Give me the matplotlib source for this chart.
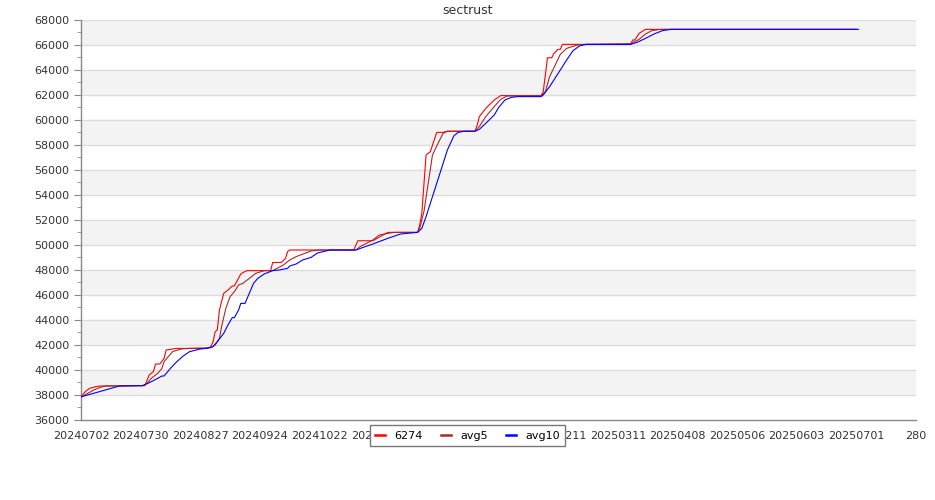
import matplotlib.pyplot as plt
import matplotlib.ticker as ticker
from matplotlib.lines import Line2D

# ---------------------------------------------------------------------------
# Data (x = days since 20240702)
# ---------------------------------------------------------------------------

TICK_LABELS = [
    "20240702", "20240730", "20240827", "20240924", "20241022", "20241119",
    "20241217", "20250114", "20250211", "20250311", "20250408", "20250506",
    "20250603", "20250701", "280",
]

days_6274 = [0, 2, 4, 7, 9, 30, 32, 34, 35, 37, 39, 40, 45, 59, 61, 62, 63, 64,
             65, 67, 69, 71, 72, 75, 76, 78, 89, 90, 94, 96, 97, 98, 128, 130,
             137, 144, 158, 159, 160, 162, 164, 167, 170, 172, 185, 186, 187,
             190, 194, 197, 216, 217, 219, 221, 222, 224, 225, 226, 258, 259,
             260, 262, 265, 364]
vals_6274 = [37850, 38270, 38530, 38670, 38720, 38750, 39600, 39870, 40480,
             40480, 40930, 41600, 41730, 41730, 41870, 42270, 43070, 43200,
             44800, 46130, 46400, 46720, 46720, 47680, 47790, 47950, 47950,
             48600, 48600, 48930, 49470, 49600, 49600, 50340, 50340, 51010,
             51010, 51600, 52530, 57200, 57470, 59010, 59010, 59100, 59100,
             59600, 60270, 60930, 61600, 61950, 61950, 62270, 64980, 64980,
             65330, 65650, 65650, 66050, 66050, 66400, 66400, 66930, 67250,
             67250]

days_avg5 = [0, 1, 6, 9, 12, 29, 31, 33, 36, 38, 39, 41, 43, 47, 51, 61, 63, 65,
             66, 68, 70, 72, 74, 76, 79, 82, 86, 90, 92, 95, 98, 101, 105, 108,
             112, 129, 131, 134, 137, 140, 144, 147, 158, 159, 161, 163, 165,
             168, 170, 172, 185, 187, 190, 194, 197, 200, 216, 218, 220, 223,
             225, 228, 233, 237, 258, 262, 265, 268, 272, 364]
vals_avg5 = [37850, 37920, 38400, 38610, 38720, 38750, 38930, 39330, 39730,
             40130, 40670, 41070, 41470, 41680, 41730, 41780, 42000, 42530,
             43470, 44930, 45870, 46270, 46800, 46930, 47330, 47730, 47950,
             47950, 48130, 48400, 48800, 49070, 49330, 49520, 49600, 49600,
             49870, 50130, 50400, 50800, 50930, 51010, 51010, 51330, 52670,
             54930, 57200, 58270, 58930, 59100, 59100, 59470, 60270, 61070,
             61650, 61920, 61920, 62270, 63470, 64530, 65250, 65730, 66000,
             66050, 66100, 66450, 66880, 67150, 67250, 67250]

days_avg10 = [0, 18, 29, 32, 36, 38, 39, 42, 45, 48, 51, 56, 59, 62, 64, 67, 69,
              71, 72, 74, 75, 77, 79, 81, 83, 86, 90, 93, 97, 98, 101, 104, 108,
              111, 117, 129, 137, 144, 150, 158, 160, 162, 167, 172, 175, 177,
              180, 185, 187, 190, 194, 196, 199, 202, 205, 216, 217, 220, 224,
              228, 231, 234, 237, 258, 261, 265, 269, 273, 277, 365]
vals_avg10 = [37850, 38720, 38750, 38980, 39330, 39520, 39520, 40130, 40670,
              41120, 41470, 41680, 41730, 41870, 42270, 42930, 43600, 44190,
              44190, 44800, 45330, 45330, 46130, 46930, 47330, 47680, 47950,
              48000, 48130, 48320, 48480, 48800, 49010, 49360, 49600, 49600,
              50080, 50530, 50880, 51010, 51330, 52270, 54930, 57600, 58720,
              59010, 59100, 59100, 59250, 59730, 60400, 60980, 61600, 61810,
              61870, 61870, 62000, 62670, 63730, 64800, 65550, 65920, 66050,
              66050, 66210, 66530, 66880, 67150, 67250, 67250]

SERIES = [
    ("6274", days_6274, vals_6274, "#ff0000"),
    ("avg5", days_avg5, vals_avg5, "#a52a2a"),
    ("avg10", days_avg10, vals_avg10, "#0000ff"),
]

Y_MIN, Y_MAX, Y_STEP = 36000, 68000, 2000
TEXT = "#333333"

# ---------------------------------------------------------------------------
# Plot
# ---------------------------------------------------------------------------

fig = plt.figure(figsize=(9.35, 5.0), dpi=100)
ax = fig.add_axes([81 / 935, 80 / 500, 835 / 935, 400 / 500])

# alternating bands
for i, lo in enumerate(range(Y_MIN, Y_MAX, Y_STEP)):
    if i % 2 == 1:
        ax.axhspan(lo, lo + Y_STEP, color="#f3f3f3", lw=0, zorder=0)
for y in range(Y_MIN + Y_STEP, Y_MAX + 1, Y_STEP):
    ax.axhline(y, color="#dcdcdc", lw=1.0, zorder=1)

for name, d, v, c in SERIES:
    ax.plot(d, v, color=c, lw=0.8, zorder=3)

ax.set_xlim(0, 28 * (len(TICK_LABELS) - 1))
ax.set_ylim(Y_MIN, Y_MAX)
ax.set_xticks([28 * i for i in range(len(TICK_LABELS))])
ax.set_xticklabels(TICK_LABELS)
ax.set_yticks(range(Y_MIN, Y_MAX + 1, Y_STEP))
ax.yaxis.set_minor_locator(ticker.MultipleLocator(1000))
ax.tick_params(axis="x", length=0, pad=8, labelsize=8, labelcolor=TEXT)
ax.tick_params(axis="y", which="major", length=5, color="#888888",
               labelsize=8, labelcolor=TEXT)
ax.tick_params(axis="y", which="minor", length=3, color="#888888")

for side in ("top", "right"):
    ax.spines[side].set_visible(False)
for side in ("left", "bottom"):
    ax.spines[side].set_color("#888888")
    ax.spines[side].set_linewidth(1.0)

fig.text(0.5, 1 - 10 / 500, "sectrust", ha="center", va="center",
         fontsize=9, color=TEXT)

handles = [Line2D([], [], color=c, lw=1.8) for _, _, _, c in SERIES]
leg = fig.legend(
    handles, [s[0] for s in SERIES],
    loc="upper center", bbox_to_anchor=(0.5, 1 - 425 / 500),
    ncol=3, fontsize=8, frameon=True, fancybox=False, framealpha=1.0,
    handlelength=0.9, handletextpad=0.85, columnspacing=1.6,
    borderpad=0.5, borderaxespad=0.0,
)
leg.get_frame().set_edgecolor("#777777")
leg.get_frame().set_linewidth(1.0)

fig.savefig("out.png", dpi=100, facecolor="white")
